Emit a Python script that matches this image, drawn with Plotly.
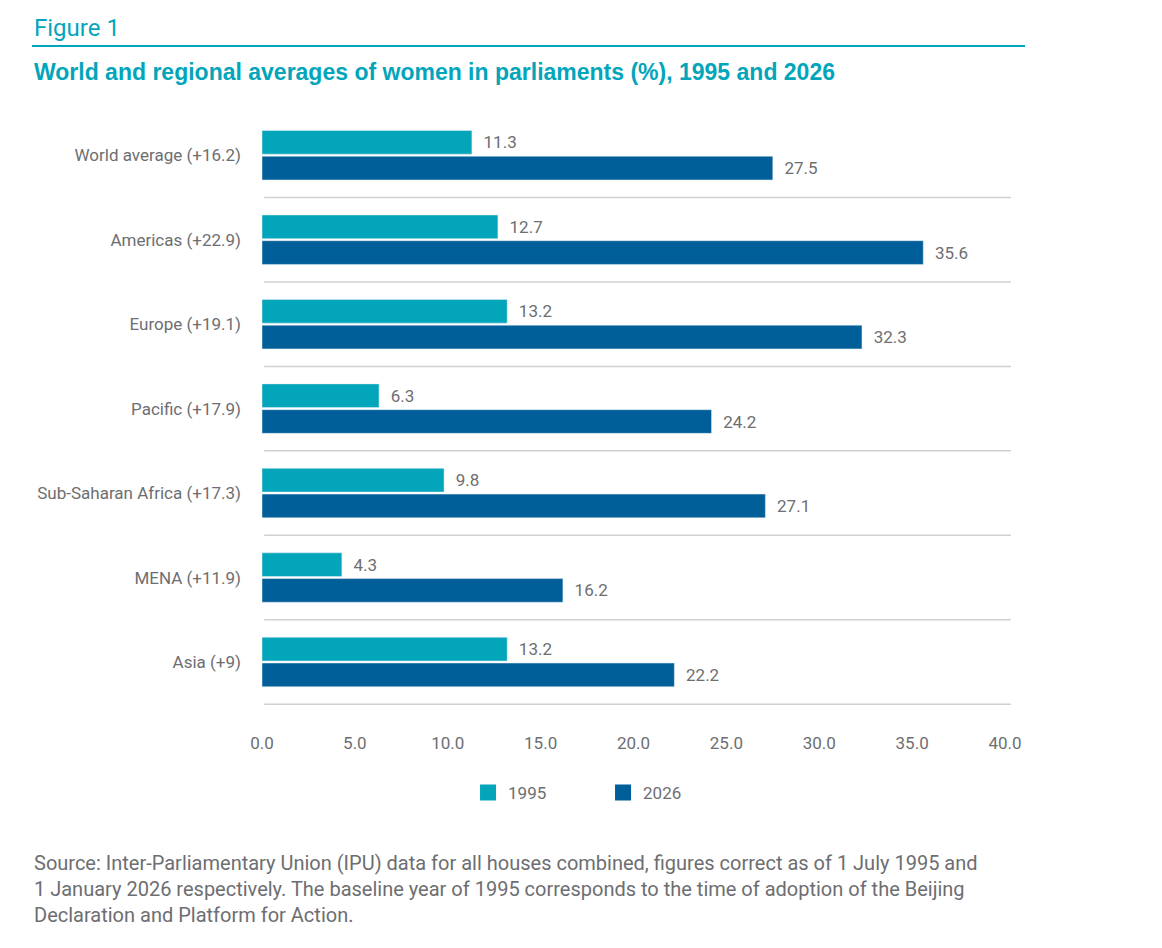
import plotly.graph_objects as go

# regions, top to bottom
regions = ["World average (+16.2)", "Americas (+22.9)", "Europe (+19.1)",
           "Pacific (+17.9)", "Sub-Saharan Africa (+17.3)", "MENA (+11.9)", "Asia (+9)"]
# share of women in parliaments, %
pct_1995 = [11.3, 12.7, 13.2, 6.3, 9.8, 4.3, 13.2]
pct_2026 = [27.5, 35.6, 32.3, 24.2, 27.1, 16.2, 22.2]
x_ticks = [0, 5, 10, 15, 20, 25, 30, 35, 40]

TEAL = "#03a5bb"
NAVY = "#005e99"
GREY = "#6d6e71"
FONT = "Roboto"

fig = go.Figure()
for name, vals, col in [("1995", pct_1995, TEAL), ("2026", pct_2026, NAVY)]:
    fig.add_trace(go.Bar(
        y=regions, x=vals, name=name, orientation="h", showlegend=False,
        marker_color=col, text=["\u2002" + f"{v:.1f}" for v in vals],
        textposition="outside", textfont=dict(size=17, color=GREY, family=FONT),
        cliponaxis=False,
    ))
    # legend key only (bigger squares than the bar default)
    fig.add_trace(go.Scatter(
        x=[None], y=[None], mode="markers", name=name,
        marker=dict(symbol="square", size=22, color=col),
    ))

# separators below each region
for i in range(len(regions)):
    fig.add_shape(type="line", xref="paper", yref="y",
                  x0=0.003, x1=1.008, y0=i + 0.5, y1=i + 0.5,
                  line=dict(color="#d0d0d0", width=1.5))

# rule under "Figure 1"
fig.add_shape(type="line", xref="paper", yref="paper",
              x0=-0.3096, x1=1.027, y0=1.113, y1=1.113,
              line=dict(color=TEAL, width=2))

fig.add_annotation(text="Figure 1", xref="paper", yref="paper",
                   x=-0.3096, y=1.117, xanchor="left", yanchor="bottom",
                   showarrow=False, font=dict(size=24, color=TEAL, family=FONT))
fig.add_annotation(text="<b>World and regional averages of women in parliaments (%), 1995 and 2026</b>",
                   xref="paper", yref="paper", x=-0.3096, y=1.07,
                   xanchor="left", yanchor="middle", showarrow=False,
                   font=dict(size=23, color=TEAL, family="Liberation Sans"))
fig.add_annotation(
    text=("Source: Inter-Parliamentary Union (IPU) data for all houses combined, figures correct as of 1 July 1995 and<br>"
          "1 January 2026 respectively. The baseline year of 1995 corresponds to the time of adoption of the Beijing<br>"
          "Declaration and Platform for Action."),
    xref="paper", yref="paper", x=-0.3096, y=-0.243,
    xanchor="left", yanchor="top", align="left", showarrow=False,
    font=dict(size=20, color=GREY, family=FONT))

fig.update_layout(
    width=1162, height=948,
    margin=dict(l=254, r=165, t=105, b=251),
    paper_bgcolor="white", plot_bgcolor="white",
    barmode="group", bargap=0.39, bargroupgap=0.08,
    font=dict(family=FONT, color=GREY, size=17),
    xaxis=dict(range=[0, 40], tickvals=x_ticks, ticktext=[f"{t:.1f}" for t in x_ticks],
               showgrid=False, zeroline=False, showline=False, ticks="",
               ticklabelstandoff=26, tickfont=dict(size=17, color=GREY)),
    yaxis=dict(autorange="reversed", showgrid=False, zeroline=False, showline=False,
               ticks="", ticklabelstandoff=20, tickfont=dict(size=17, color=GREY)),
    legend=dict(orientation="h", x=0.459, xanchor="center", y=-0.118, yanchor="top",
                font=dict(size=17, color=GREY), entrywidth=90, itemwidth=30,
                itemsizing="trace"),
)

fig.write_html("out.html")
